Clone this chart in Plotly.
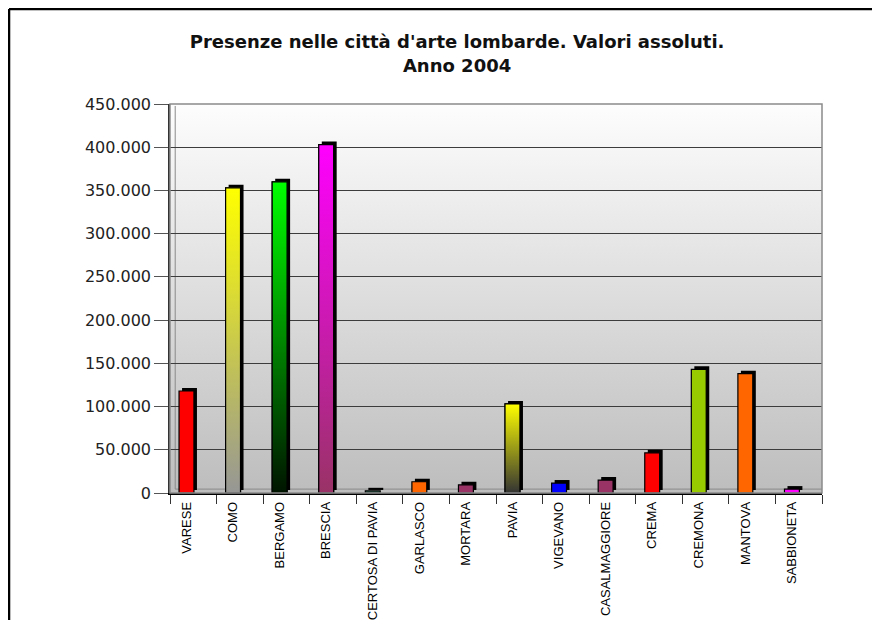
import base64

import plotly.graph_objects as go

# Presenze 2004 nelle città d'arte lombarde
citta = [
    "VARESE", "COMO", "BERGAMO", "BRESCIA", "CERTOSA DI PAVIA", "GARLASCO",
    "MORTARA", "PAVIA", "VIGEVANO", "CASALMAGGIORE", "CREMA", "CREMONA",
    "MANTOVA", "SABBIONETA",
]
presenze = [
    118000, 353000, 360000, 403000, 2500, 13000,
    9500, 103000, 11500, 15000, 46500, 143000,
    138000, 4500,
]
# colore in cima / alla base della barra (uguali = tinta unita)
colore_alto = [
    "#FF0000", "#FFFF00", "#00FF00", "#FF00FF", "#336655", "#FF6600",
    "#993366", "#FFFF00", "#0000FF", "#993366", "#FF0000", "#99CC00",
    "#FF6600", "#FF00FF",
]
colore_basso = [
    "#FF0000", "#969696", "#001400", "#993366", "#336655", "#FF6600",
    "#993366", "#333333", "#0000FF", "#993366", "#FF0000", "#99CC00",
    "#FF6600", "#FF00FF",
]

idx = list(range(len(citta)))
W = 0.32          # larghezza barra (unità categoria)
DX = 0.065        # profondità 3D orizzontale
DY = 3500         # profondità 3D verticale
X0 = -0.354       # le barre sono spostate a sinistra come nell'originale

# sfondo sfumato dell'area del grafico
svg = (
    "<svg xmlns='http://www.w3.org/2000/svg' width='10' height='100' preserveAspectRatio='none'>"
    "<defs><linearGradient id='g' x1='0' y1='0' x2='0' y2='1'>"
    "<stop offset='0' stop-color='#fdfdfd'/><stop offset='1' stop-color='#bdbdbd'/>"
    "</linearGradient></defs><rect width='10' height='100' fill='url(#g)'/></svg>"
)
sfondo = "data:image/svg+xml;base64," + base64.b64encode(svg.encode()).decode()

fig = go.Figure()

# lato in ombra (effetto 3D)
fig.add_trace(go.Bar(
    x=idx, y=presenze, base=DY, width=W, offset=-W / 2 + DX,
    marker=dict(color="#000000", line=dict(width=0)),
    hoverinfo="skip", showlegend=False,
))
fig.add_trace(go.Bar(
    x=idx, y=presenze, width=W,
    marker=dict(color=colore_alto, line=dict(color="#000000", width=1.2)),
    hovertemplate="%{customdata}<br>%{y:,d}<extra></extra>",
    customdata=citta, showlegend=False,
))

# barre sfumate
for i, v in enumerate(presenze):
    if colore_alto[i] == colore_basso[i]:
        continue
    fig.add_trace(go.Scatter(
        x=[i - W / 2, i - W / 2, i + W / 2, i + W / 2, i - W / 2],
        y=[0, v, v, 0, 0],
        mode="lines", fill="toself",
        fillgradient=dict(type="vertical",
                          colorscale=[[0, colore_basso[i]], [1, colore_alto[i]]]),
        line=dict(color="#000000", width=1.2),
        hoverinfo="skip", showlegend=False,
    ))

# la pagina ha 8px di margine: la figura parte da (8, 8)
fig.update_layout(
    width=872, height=612,
    margin=dict(l=162, r=58, t=96, b=127),
    paper_bgcolor="white", plot_bgcolor="rgba(0,0,0,0)",
    separators=",.",
    barmode="overlay",
    title=dict(
        text="Presenze nelle città d'arte lombarde. Valori assoluti.<br>Anno 2004",
        x=0.515, xanchor="center", y=0.934, yanchor="top",
        font=dict(family="DejaVu Sans", size=18, color="#111111", weight="bold"),
    ),
    xaxis=dict(
        range=[X0, X0 + len(citta)], automargin=False,
        tickvals=idx, ticktext=citta, tickangle=-90,
        ticks="", ticklabelstandoff=2,
        tickfont=dict(family="Liberation Sans, Arial", size=13, color="#000000"),
        showgrid=False, zeroline=False,
        showline=True, linecolor="#000000", linewidth=1.5,
        minor=dict(tickvals=[X0 + k for k in range(len(citta) + 1)],
                   ticks="outside", ticklen=9, tickcolor="#333333", tickwidth=1,
                   showgrid=False),
    ),
    yaxis=dict(
        range=[0, 450000], dtick=50000, tickformat=",d", automargin=False,
        ticks="outside", ticklen=14, tickcolor="#555555", tickwidth=1,
        tickfont=dict(family="DejaVu Sans", size=16, color="#222222"),
        showgrid=True, gridcolor="#3c3c3c", gridwidth=1,
        zeroline=False,
        showline=True, linecolor="#333333", linewidth=1.5,
    ),
    images=[dict(
        source=sfondo, xref="paper", yref="paper", x=0, y=1,
        sizex=1, sizey=1, sizing="stretch", layer="below",
        xanchor="left", yanchor="top",
    )],
    shapes=[
        # bordo area grafico
        dict(type="rect", xref="paper", yref="paper", x0=0, y0=0, x1=1, y1=1,
             line=dict(color="#8a8a8a", width=1.5), layer="above"),
        # parete sinistra e pavimento
        dict(type="line", xref="paper", yref="paper", x0=0.008, y0=0.01, x1=0.008, y1=0.995,
             line=dict(color="#8a8a8a", width=1), layer="below"),
        dict(type="line", xref="paper", yref="paper", x0=0.008, y0=0.01, x1=1, y1=0.01,
             line=dict(color="#8a8a8a", width=1), layer="below"),
        # cornice esterna
        dict(type="line", xref="paper", yref="paper", x0=-0.2469, y0=1.2442, x1=-0.2469, y1=-0.35,
             line=dict(color="#000000", width=2.5)),
        dict(type="line", xref="paper", yref="paper", x0=-0.2469, y0=1.2442, x1=1.1, y1=1.2442,
             line=dict(color="#000000", width=2.5)),
    ],
)

fig.write_html("out.html")
